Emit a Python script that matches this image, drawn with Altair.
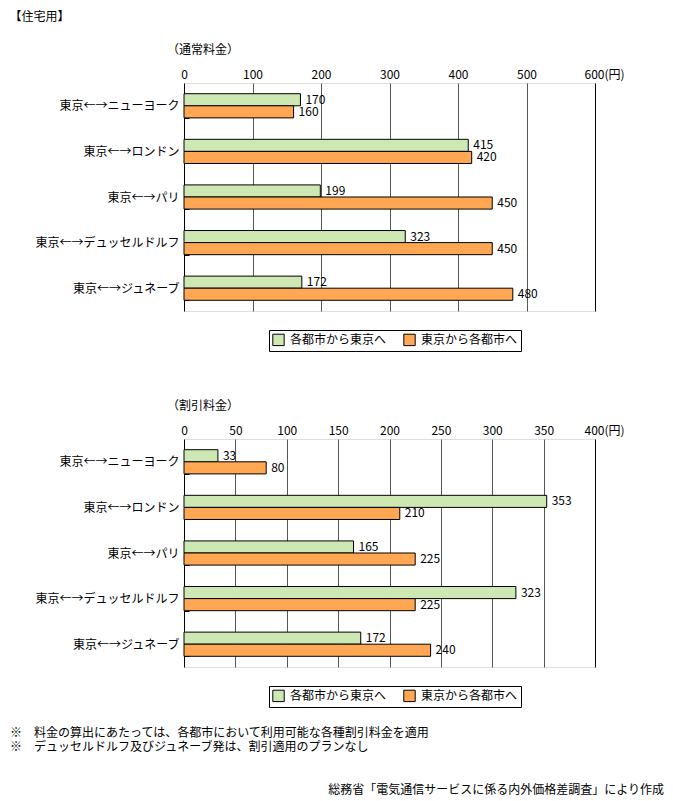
import altair as alt
import pandas as pd

FONT = "Noto Sans CJK JP"

routes = ["東京←→ニューヨーク", "東京←→ロンドン", "東京←→パリ", "東京←→デュッセルドルフ", "東京←→ジュネーブ"]
series = ["各都市から東京へ", "東京から各都市へ"]
colors = ["#CDE8B2", "#FFA752"]

normal_to_tokyo = [170, 415, 199, 323, 172]
normal_from_tokyo = [160, 420, 450, 450, 480]
disc_to_tokyo = [33, 353, 165, 323, 172]
disc_from_tokyo = [80, 210, 225, 225, 240]

normal_ticks = [0, 100, 200, 300, 400, 500, 600]
disc_ticks = [0, 50, 100, 150, 200, 250, 300, 350, 400]

main_title = "【住宅用】"
normal_title = "（通常料金）"
disc_title = "（割引料金）"
notes = [
    "※　料金の算出にあたっては、各都市において利用可能な各種割引料金を適用",
    "※　デュッセルドルフ及びジュネーブ発は、割引適用のプランなし",
]
source = "総務省「電気通信サービスに係る内外価格差調査」により作成"

W, H = 411, 228


def panel(title, a, b, ticks, title_offset):
    xmax = ticks[-1]
    df = pd.DataFrame({
        "route": routes * 2,
        "series": [series[0]] * len(routes) + [series[1]] * len(routes),
        "value": a + b,
    })
    y = alt.Y(
        "route:N", sort=routes, title=None,
        scale=alt.Scale(paddingInner=0.47, paddingOuter=0.235),
        axis=alt.Axis(tickBand="extent", offset=-5, domain=False, tickSize=5,
                      tickColor="black", labelPadding=5, labelFont=FONT,
                      labelFontSize=12, labelColor="black", labelLimit=300),
    )
    x = alt.X(
        "value:Q", title=None,
        scale=alt.Scale(domain=[0, xmax], nice=False),
        axis=alt.Axis(
            orient="top", values=ticks, grid=True,
            gridColor={"condition": {"test": f"datum.value == 0 || datum.value == {xmax}", "value": "black"}, "value": "#555555"},
            ticks=False, domain=False, labelPadding=2, labelFont=FONT,
            labelFontSize=12, labelColor="black",
            labelExpr=f"datum.value == {xmax} ? datum.label + '(円)' : datum.label",
            labelAlign={"condition": {"test": f"datum.value == {xmax}", "value": "left"}, "value": "center"},
            labelOffset={"condition": {"test": f"datum.value == {xmax}", "value": -11}, "value": 0},
        ),
    )
    yoff = alt.YOffset("series:N", sort=series, scale=alt.Scale(paddingInner=0, paddingOuter=0))
    base = alt.Chart(df)
    bars = base.mark_bar(stroke="black", strokeWidth=1).encode(
        x=x, y=y, yOffset=yoff,
        color=alt.Color(
            "series:N", scale=alt.Scale(domain=series, range=colors),
            legend=alt.Legend(
                title=None, orient="none", legendX=85, legendY=247,
                direction="horizontal", strokeColor="black", padding=3,
                symbolType="square", symbolSize=130, symbolStrokeColor="black",
                symbolStrokeWidth=1, labelFont=FONT, labelFontSize=12,
                labelColor="black", columnPadding=14, labelOffset=5,
            ),
        ),
    )
    text = base.mark_text(align="left", baseline="middle", dx=5, font=FONT,
                          fontSize=12, color="black").encode(
        x="value:Q", y=alt.Y("route:N", sort=routes), yOffset=yoff, text="value:Q"
    )
    return alt.layer(bars, text).properties(
        width=W, height=H,
        title=alt.TitleParams(title, anchor="start", frame="group", dx=-17, font=FONT,
                              fontSize=12, fontWeight="normal", color="black",
                              offset=title_offset),
    )


top = panel(normal_title, normal_to_tokyo, normal_from_tokyo, normal_ticks, 11)
bottom = panel(disc_title, disc_to_tokyo, disc_from_tokyo, disc_ticks, 11)

note_layers = []
for i, n in enumerate(notes):
    note_layers.append(
        alt.Chart(pd.DataFrame({"t": [n]})).mark_text(
            align="left", baseline="middle", font=FONT, fontSize=12, color="black"
        ).encode(x=alt.value(-174), y=alt.value(294 + 14 * i), text="t:N")
    )
src_layer = alt.Chart(pd.DataFrame({"t": [source]})).mark_text(
    align="right", baseline="middle", font=FONT, fontSize=12, color="black"
).encode(x=alt.value(480), y=alt.value(351), text="t:N")

bottom = alt.layer(bottom, *note_layers, src_layer)

chart = alt.vconcat(top, bottom, spacing=47).properties(
    title=alt.TitleParams(main_title, anchor="start", font=FONT, fontSize=12,
                          fontWeight="normal", color="black", offset=20),
    padding={"left": 1, "top": 2, "right": 0, "bottom": 0},
).resolve_legend(color="independent").configure_view(
    stroke="black", strokeWidth=1
).configure(font=FONT)

chart.save("out.html", embed_options={"renderer": "svg", "actions": False})
